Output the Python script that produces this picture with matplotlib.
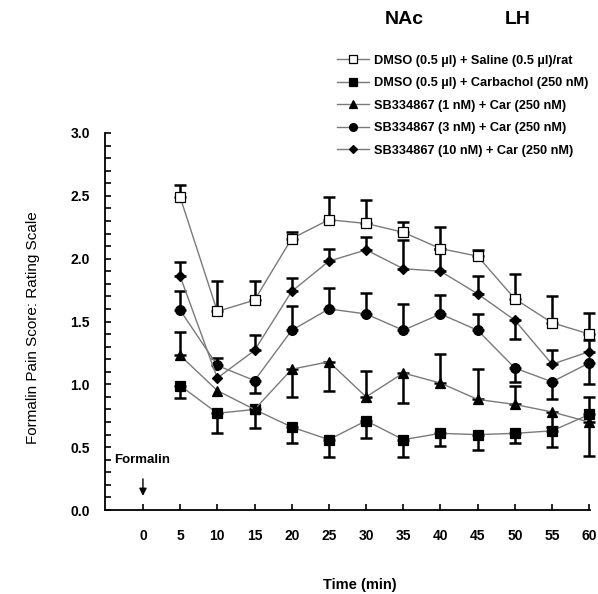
import numpy as np
import matplotlib
matplotlib.use('Agg')
import matplotlib.pyplot as plt
from matplotlib.ticker import MultipleLocator

# values (time in min, score)
time = [5, 10, 15, 20, 25, 30, 35, 40, 45, 50, 55, 60]

saline = [2.49, 1.58, 1.67, 2.16, 2.31, 2.28, 2.21, 2.08, 2.02, 1.68, 1.49, 1.40]
saline_up = [0.10, 0.24, 0.15, 0.05, 0.18, 0.19, 0.08, 0.17, 0.05, 0.20, 0.21, 0.17]
saline_dn = [0, 0, 0, 0, 0, 0, 0, 0, 0, 0, 0, 0]

carbachol = [0.99, 0.77, 0.80, 0.66, 0.56, 0.71, 0.56, 0.61, 0.60, 0.61, 0.63, 0.76]
carbachol_up = [0, 0, 0, 0, 0, 0, 0, 0, 0, 0, 0, 0.14]
carbachol_dn = [0.10, 0.16, 0.15, 0.13, 0.14, 0.14, 0.14, 0.10, 0.12, 0.08, 0.13, 0]

sb1 = [1.23, 0.95, 0.80, 1.12, 1.18, 0.90, 1.09, 1.01, 0.88, 0.84, 0.78, 0.70]
sb1_up = [0.19, 0, 0, 0, 0, 0.21, 0, 0.23, 0.24, 0.15, 0, 0]
sb1_dn = [0, 0, 0, 0.22, 0.23, 0, 0.24, 0, 0, 0, 0.12, 0.27]

sb3 = [1.59, 1.15, 1.03, 1.43, 1.60, 1.56, 1.43, 1.56, 1.43, 1.13, 1.02, 1.17]
sb3_up = [0.15, 0.06, 0, 0.19, 0.17, 0.17, 0.21, 0.15, 0.13, 0, 0, 0]
sb3_dn = [0, 0, 0.10, 0, 0, 0, 0, 0, 0, 0.11, 0.14, 0.17]

sb10 = [1.86, 1.05, 1.27, 1.74, 1.98, 2.07, 1.92, 1.90, 1.72, 1.51, 1.16, 1.26]
sb10_up = [0.11, 0, 0.12, 0.11, 0.10, 0.10, 0.23, 0.18, 0.14, 0, 0.11, 0.09]
sb10_dn = [0, 0, 0, 0, 0, 0, 0, 0, 0, 0.15, 0, 0]

labels = ['DMSO (0.5 \u00b5l) + Saline (0.5 \u00b5l)/rat',
          'DMSO (0.5 \u00b5l) + Carbachol (250 nM)',
          'SB334867 (1 nM) + Car (250 nM)',
          'SB334867 (3 nM) + Car (250 nM)',
          'SB334867 (10 nM) + Car (250 nM)']

plt.rcParams['font.family'] = ['Liberation Sans', 'DejaVu Sans']
plt.rcParams['font.weight'] = 'bold'


def draw_series(ax, y, up, dn, marker, face, ms, label):
	x = np.array(time)
	y = np.array(y)
	up = np.array(up)
	dn = np.array(dn)
	keep = (up > 0) | (dn > 0)
	ax.errorbar(x[keep], y[keep], yerr=[dn[keep], up[keep]], fmt='none',
		ecolor='black', elinewidth=1.8, capsize=4, capthick=1.8, zorder=2, clip_on=False)
	ax.plot(x, y, color='#7a7a7a', lw=1, marker=marker, ms=ms, mfc=face,
		mec='black', mew=0.9, label=label, zorder=3, clip_on=False)


def main():
	fig = plt.figure(figsize=(5.98, 5.94), dpi=100)
	ax = fig.add_axes([0.1756, 0.1414, 0.811, 0.6347])

	draw_series(ax, saline, saline_up, saline_dn, 's', 'white', 6.5, labels[0])
	draw_series(ax, carbachol, carbachol_up, carbachol_dn, 's', 'black', 6.5, labels[1])
	draw_series(ax, sb1, sb1_up, sb1_dn, '^', 'black', 6.5, labels[2])
	draw_series(ax, sb3, sb3_up, sb3_dn, 'o', 'black', 7, labels[3])
	draw_series(ax, sb10, sb10_up, sb10_dn, 'D', 'black', 5.5, labels[4])

	ax.set_xlim(-5.1, 60.1)
	ax.set_ylim(0, 3.0)
	ax.set_xticks(range(0, 61, 5))
	ax.yaxis.set_major_locator(MultipleLocator(0.5))
	ax.yaxis.set_minor_locator(MultipleLocator(0.1))
	ax.yaxis.set_major_formatter(plt.FormatStrFormatter('%.1f'))
	ax.spines['top'].set_visible(False)
	ax.spines['right'].set_visible(False)
	ax.spines['left'].set_linewidth(1.3)
	ax.spines['bottom'].set_linewidth(1.3)
	ax.tick_params(axis='y', which='both', direction='in', length=4, width=1.2, labelsize=10, pad=11)
	ax.tick_params(axis='x', direction='in', length=4, width=1.2, labelsize=10, pad=14)

	ax.set_xlabel('Time (min)', fontsize=10.5, fontweight='bold')
	ax.xaxis.set_label_coords(0.526, -0.18)
	ax.set_ylabel('Formalin Pain Score: Rating Scale', fontsize=11, fontweight='normal')
	ax.yaxis.set_label_coords(-0.135, 0.485)

	# formalin injection marker
	ax.annotate('', xy=(0, 0.09), xytext=(0, 0.27),
		arrowprops=dict(arrowstyle='-|>', color='black', lw=1, mutation_scale=11))
	ax.text(-0.1, 0.40, 'Formalin', ha='center', va='center', fontsize=9.5, fontweight='bold')

	fig.text(0.676, 0.968, 'NAc', ha='center', va='center', fontsize=14, fontweight='bold')
	fig.text(0.866, 0.968, 'LH', ha='center', va='center', fontsize=14, fontweight='bold')

	fig.legend(loc='upper left', bbox_to_anchor=(0.5635, 0.908), frameon=False,
		fontsize=9.2, handlelength=2.5, handletextpad=0.4, labelspacing=0.82,
		borderpad=0, borderaxespad=0, numpoints=1, markerscale=0.8)

	fig.savefig('out.png', dpi=100)


if __name__ == '__main__':
	main()
